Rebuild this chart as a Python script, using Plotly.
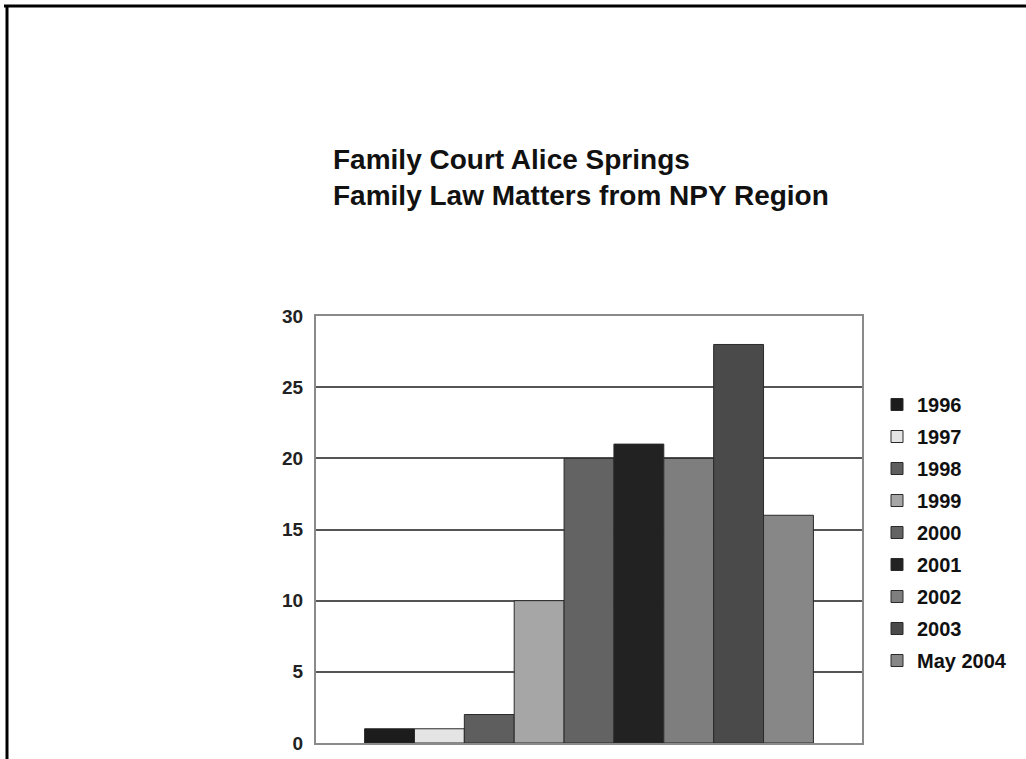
import plotly.graph_objects as go

series_names = ["1996", "1997", "1998", "1999", "2000", "2001", "2002", "2003", "May 2004"]
series_values = [1, 1, 2, 10, 20, 21, 20, 28, 16]
series_colors = ["#1c1c1c", "#e4e4e4", "#5e5e5e", "#a6a6a6", "#636363",
                 "#222222", "#7e7e7e", "#4a4a4a", "#878787"]
category = ["Family law matters"]
y_ticks = [0, 5, 10, 15, 20, 25, 30]

FONT = "Liberation Sans, Arial, sans-serif"

# plot area in pixels
PL, PR, PT, PB = 316, 862, 316, 743
PW, PH = PR - PL, PB - PT

fig = go.Figure()
for name, val, col in zip(series_names, series_values, series_colors):
    fig.add_trace(go.Bar(
        x=category, y=[val], name=name, legendgroup=name,
        marker=dict(color=col, line=dict(color="#2a2a2a", width=1)),
    ))

fig.update_layout(
    width=1026, height=759,
    paper_bgcolor="white", plot_bgcolor="white",
    margin=dict(l=PL, r=1026 - PR, t=PT, b=759 - PB, autoexpand=False),
    barmode="group", bargap=0.178, bargroupgap=0,
    title=dict(
        text="Family Court Alice Springs<br>Family Law Matters from NPY Region",
        x=333 / 1026, xanchor="left", xref="container",
        y=1 - 169 / 759, yanchor="top", yref="container",
        font=dict(family=FONT, size=28, color="#111111", weight="bold"),
    ),
    showlegend=True,
    legend=dict(
        x=(877 - PL) / PW, xanchor="left",
        y=(PB - 385) / PH, yanchor="top",
        font=dict(family=FONT, size=20, color="#111111", weight="bold"),
        tracegroupgap=3, bgcolor="rgba(0,0,0,0)",
    ),
    xaxis=dict(
        showticklabels=False, ticks="", showgrid=False,
        showline=True, linecolor="#8a8a8a", linewidth=2, mirror=True,
    ),
    yaxis=dict(
        range=[0, 30], tickvals=y_ticks, ticks="",
        showgrid=True, gridcolor="#555555", gridwidth=1.5,
        showline=True, linecolor="#8a8a8a", linewidth=2, mirror=True,
        zeroline=False, ticklabelstandoff=7,
        tickfont=dict(family=FONT, size=19, color="#222222", weight="bold"),
    ),
    shapes=[
        dict(type="line", xref="paper", yref="paper",
             x0=-(PL - 4) / PW, x1=(1026 - PL) / PW,
             y0=(PB - 6) / PH, y1=(PB - 6) / PH, line=dict(color="#000000", width=3)),
        dict(type="line", xref="paper", yref="paper",
             x0=-(PL - 7) / PW, x1=-(PL - 7) / PW,
             y0=(PB - 5) / PH, y1=(PB - 760) / PH, line=dict(color="#000000", width=3)),
    ],
)

fig.write_html("out.html", config={"displayModeBar": False},
               post_script="document.body.style.margin='0';")
